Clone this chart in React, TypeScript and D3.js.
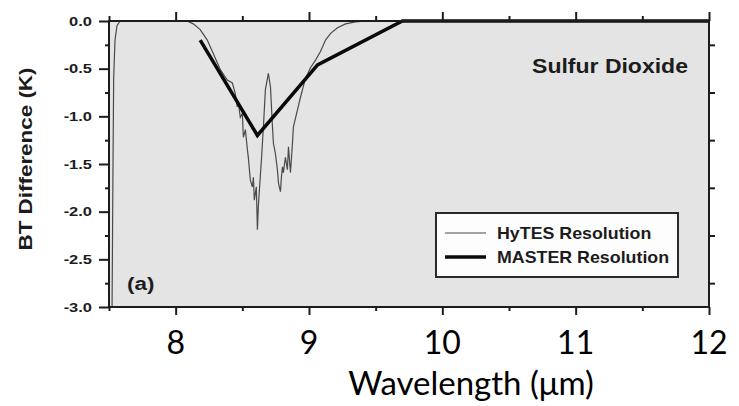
import React, { useEffect, useRef } from "react";
import * as d3 from "d3";

// HyTES (fine resolution) brightness temperature difference
const hytesWavelength = [
  7.5, 7.523, 7.53, 7.535, 7.545, 7.56, 7.583, 8.0, 8.086, 8.132, 8.184, 8.237,
  8.282, 8.335, 8.387, 8.425, 8.447, 8.462, 8.47, 8.485, 8.5, 8.508, 8.523,
  8.538, 8.545, 8.56, 8.575, 8.583, 8.59, 8.605, 8.613, 8.62, 8.628, 8.643,
  8.658, 8.673, 8.695, 8.711, 8.726, 8.733, 8.748, 8.763, 8.771, 8.786, 8.793,
  8.801, 8.808, 8.823, 8.838, 8.846, 8.861, 8.876, 8.883, 8.914, 8.936, 8.974,
  9.011, 9.049, 9.086, 9.124, 9.162, 9.214, 9.274, 9.35, 9.425, 12.0,
];
const hytesDiff = [
  -4.0, -3.0, -1.5, -0.6, -0.2, -0.05, 0, 0, 0, -0.03, -0.09, -0.2, -0.34,
  -0.51, -0.62, -0.65, -0.76, -0.9, -0.86, -1.01, -0.97, -1.22, -1.14, -1.35,
  -1.43, -1.67, -1.74, -1.64, -1.88, -1.74, -2.19, -1.95, -1.77, -1.46, -1.11,
  -0.72, -0.55, -0.69, -1.11, -1.28, -1.39, -1.56, -1.7, -1.79, -1.64, -1.53,
  -1.59, -1.43, -1.56, -1.32, -1.59, -1.28, -1.11, -0.93, -0.8, -0.6, -0.49,
  -0.41, -0.32, -0.2, -0.13, -0.07, -0.03, -0.01, 0, 0,
];

// MASTER (band) resolution
const masterWavelength = [8.184, 8.613, 9.064, 9.7, 10.5, 11.3, 12.0];
const masterDiff = [-0.2, -1.2, -0.46, 0, 0, 0, 0];

const xMajorTicks = [8, 9, 10, 11, 12];
const xMinorTicks = [7.5, 8.5, 9.5, 10.5, 11.5];
const xTickLabels = ["8", "9", "10", "11", "12"];
const yMajorTicks = [0, -0.5, -1, -1.5, -2, -2.5, -3];
const yMinorTicks = [-0.25, -0.75, -1.25, -1.75, -2.25, -2.75];
const legendLabels = ["HyTES Resolution", "MASTER Resolution"];

export default function App() {
  const ref = useRef<SVGSVGElement>(null);

  useEffect(() => {
    const svg = d3.select(ref.current);
    svg.selectAll("*").remove();

    const x = d3.scaleLinear().domain([7.5, 12]).range([109, 709]);
    const y = d3.scaleLinear().domain([-3, 0]).range([307, 21]);
    const ink = "#1c1c1c";
    const fig = "'Liberation Sans', Arial, sans-serif";

    svg
      .append("rect")
      .attr("x", x(7.5))
      .attr("y", y(0))
      .attr("width", x(12) - x(7.5))
      .attr("height", y(-3) - y(0))
      .attr("fill", "#e4e4e4");

    svg
      .append("clipPath")
      .attr("id", "plotclip")
      .append("rect")
      .attr("x", x(7.5))
      .attr("y", y(0) - 2)
      .attr("width", x(12) - x(7.5))
      .attr("height", y(-3) - y(0) + 2);

    const line = d3
      .line<[number, number]>()
      .x((d) => x(d[0]))
      .y((d) => y(d[1]));

    const hytes = hytesWavelength.map((w, i) => [w, hytesDiff[i]] as [number, number]);
    const master = masterWavelength.map((w, i) => [w, masterDiff[i]] as [number, number]);

    const plot = svg.append("g").attr("clip-path", "url(#plotclip)");
    plot
      .append("path")
      .attr("d", line(hytes))
      .attr("fill", "none")
      .attr("stroke", "#4a4a4a")
      .attr("stroke-width", 1.2);
    plot
      .append("path")
      .attr("d", line(master))
      .attr("fill", "none")
      .attr("stroke", "#0a0a0a")
      .attr("stroke-width", 3.5);

    // axes: ticks only, frame drawn separately
    const addAxis = (axis: any, tx: number, ty: number) => {
      const g = svg
        .append("g")
        .attr("transform", `translate(${tx},${ty})`)
        .call(axis);
      g.select(".domain").remove();
      g.selectAll("line").attr("stroke", ink).attr("stroke-width", 2);
    };
    addAxis(d3.axisBottom(x).tickValues(xMajorTicks).tickSize(8).tickFormat(() => ""), 0, y(-3));
    addAxis(d3.axisBottom(x).tickValues(xMinorTicks).tickSize(4).tickFormat(() => ""), 0, y(-3));
    addAxis(d3.axisTop(x).tickValues(xMajorTicks).tickSize(9).tickFormat(() => ""), 0, y(0));
    addAxis(d3.axisTop(x).tickValues(xMinorTicks).tickSize(5).tickFormat(() => ""), 0, y(0));
    addAxis(d3.axisLeft(y).tickValues(yMajorTicks).tickSize(10).tickFormat(() => ""), x(7.5), 0);
    addAxis(d3.axisLeft(y).tickValues(yMinorTicks).tickSize(4).tickFormat(() => ""), x(7.5), 0);
    addAxis(d3.axisRight(y).tickValues(yMinorTicks).tickSize(6).tickFormat(() => ""), x(12), 0);

    svg
      .append("rect")
      .attr("x", x(7.5))
      .attr("y", y(0))
      .attr("width", x(12) - x(7.5))
      .attr("height", y(-3) - y(0))
      .attr("fill", "none")
      .attr("stroke", ink)
      .attr("stroke-width", 2);

    // y tick labels
    svg
      .append("g")
      .selectAll("text")
      .data(yMajorTicks)
      .enter()
      .append("text")
      .attr("transform", (d) => `translate(92,${y(d) + 4.8}) scale(1.22,1)`)
      .attr("text-anchor", "end")
      .attr("font-family", fig)
      .attr("font-weight", "bold")
      .attr("font-size", 13.5)
      .attr("fill", ink)
      .text((d) => d.toFixed(1));

    svg
      .append("text")
      .attr("transform", `translate(31.5,${(y(0) + y(-3)) / 2 - 5}) rotate(-90) scale(1.18,1)`)
      .attr("text-anchor", "middle")
      .attr("font-family", fig)
      .attr("font-weight", "bold")
      .attr("font-size", 19)
      .attr("fill", ink)
      .text("BT Difference (K)");

    svg
      .append("text")
      .attr("transform", `translate(610,73) scale(1.18,1)`)
      .attr("text-anchor", "middle")
      .attr("font-family", fig)
      .attr("font-weight", "bold")
      .attr("font-size", 19.5)
      .attr("fill", ink)
      .text("Sulfur Dioxide");

    svg
      .append("text")
      .attr("transform", `translate(127,290) scale(1.18,1)`)
      .attr("font-family", fig)
      .attr("font-weight", "bold")
      .attr("font-size", 19)
      .attr("fill", ink)
      .text("(a)");

    // legend
    const lg = svg.append("g").attr("transform", "translate(436,213)");
    lg.append("rect")
      .attr("width", 242)
      .attr("height", 64)
      .attr("fill", "#fdfdfd")
      .attr("stroke", "#2a2a2a")
      .attr("stroke-width", 2);
    const items = lg
      .selectAll("g.item")
      .data(legendLabels)
      .enter()
      .append("g")
      .attr("class", "item")
      .attr("transform", (_, i) => `translate(0,${20 + i * 24})`);
    items
      .append("line")
      .attr("x1", 9)
      .attr("x2", 50)
      .attr("stroke", (_, i) => (i === 0 ? "#4a4a4a" : "#0a0a0a"))
      .attr("stroke-width", (_, i) => (i === 0 ? 1.2 : 3.5));
    items
      .append("text")
      .attr("transform", "translate(61,6) scale(1.08,1)")
      .attr("font-family", fig)
      .attr("font-weight", "bold")
      .attr("font-size", 16.5)
      .attr("fill", ink)
      .text((d) => d);

    // x tick labels and title (added below the figure)
    svg
      .append("g")
      .selectAll("text")
      .data(xMajorTicks)
      .enter()
      .append("text")
      .attr("x", (d) => x(d))
      .attr("y", 354)
      .attr("text-anchor", "middle")
      .attr("font-family", "Lato, 'Open Sans', sans-serif")
      .attr("font-size", 32)
      .attr("fill", "#000")
      .text((_, i) => xTickLabels[i]);

    svg
      .append("text")
      .attr("x", 471)
      .attr("y", 395)
      .attr("text-anchor", "middle")
      .attr("font-family", "Lato, 'Open Sans', sans-serif")
      .attr("font-size", 33)
      .attr("fill", "#000")
      .text("Wavelength (\u03bcm)");
  }, []);

  return (
    <svg
      ref={ref}
      width={739}
      height={406}
      style={{ position: "absolute", left: 0, top: 0, background: "#fff" }}
    />
  );
}
